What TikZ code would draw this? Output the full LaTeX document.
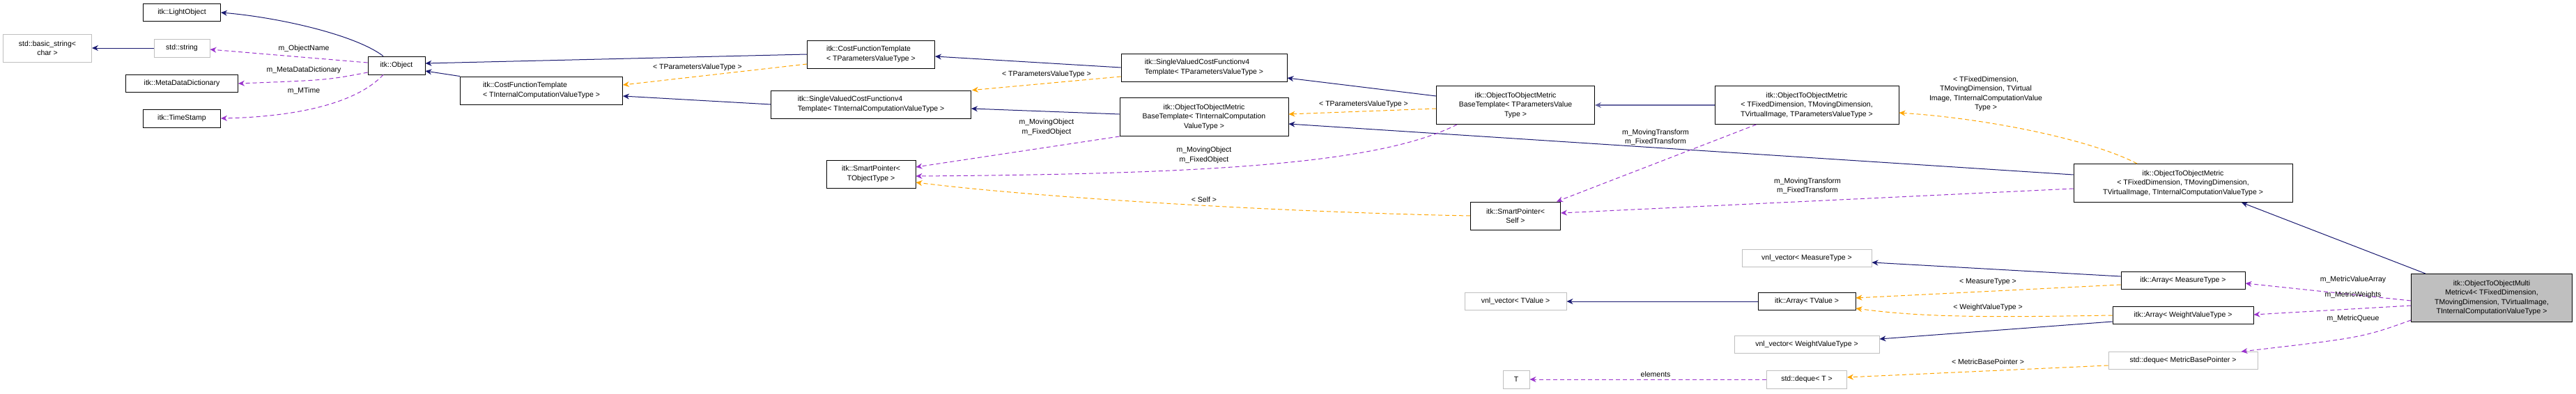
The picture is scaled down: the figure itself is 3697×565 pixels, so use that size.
\documentclass[tikz,border=0pt]{standalone}
\usepackage{fontspec}
\setmainfont{Liberation Sans}
\usepackage{tikz}
\usetikzlibrary{arrows.meta,positioning}
\definecolor{inhblue}{RGB}{25,25,112}
\definecolor{usepurple}{RGB}{153,50,204}
\definecolor{tplorange}{RGB}{255,165,0}
\definecolor{nodoc}{RGB}{191,191,191}
\definecolor{slate}{RGB}{100,100,160}

\begin{document}
\begin{tikzpicture}[
    x=1pt, y=-1pt,
    font=\fontsize{10.5}{13.5}\selectfont,
    cls/.style={rectangle, draw=black, line width=0.9pt, inner sep=2pt, align=left},
    ext/.style={cls, draw=nodoc},
    inh/.style={-{Stealth[length=9pt,width=8pt]}, draw=inhblue, line width=1pt},
    use/.style={-{Stealth[length=9pt,width=8pt]}, draw=usepurple, line width=1pt, dash pattern=on 6pt off 4pt},
    tpl/.style={-{Stealth[length=9pt,width=8pt]}, draw=tplorange, line width=1pt, dash pattern=on 6pt off 4pt},
    lbl/.style={align=center, inner sep=1pt}
]
    \useasboundingbox (0,0) rectangle (3697,565);
    % classes
    \node[cls, minimum width=111, minimum height=25] (light) at (261,18) {itk::LightObject};
    \node[ext, minimum width=127, minimum height=40, align=center] (bstr) at (68,69) {std::basic\_string<\\char >};
    \node[ext, minimum width=80, minimum height=26] (str) at (261,69) {std::string};
    \node[cls, minimum width=161, minimum height=25] (mdd) at (261,120) {itk::MetaDataDictionary};
    \node[cls, minimum width=111, minimum height=26] (ts) at (261,170) {itk::TimeStamp};
    \node[cls, minimum width=82, minimum height=26] (obj) at (569,94) {itk::Object};
    \node[cls, minimum width=233, minimum height=40] (cfti) at (777,130) {itk::CostFunctionTemplate\\< TInternalComputationValueType >};
    \node[cls, minimum width=183, minimum height=40] (cftp) at (1250,78) {itk::CostFunctionTemplate\\< TParametersValueType >};
    \node[cls, minimum width=287, minimum height=40] (svi) at (1250,150) {itk::SingleValuedCostFunctionv4\\Template< TInternalComputationValueType >};
    \node[cls, minimum width=128, minimum height=40, align=center] (spo) at (1250,250) {itk::SmartPointer<\\TObjectType >};
    \node[cls, minimum width=238, minimum height=40] (svp) at (1728,97) {itk::SingleValuedCostFunctionv4\\Template< TParametersValueType >};
    \node[cls, minimum width=242, minimum height=55, align=center] (obi) at (1728,168) {itk::ObjectToObjectMetric\\BaseTemplate< TInternalComputation\\ValueType >};
    \node[cls, minimum width=227, minimum height=55, align=center] (obp) at (2175,151) {itk::ObjectToObjectMetric\\BaseTemplate< TParametersValue\\Type >};
    \node[cls, minimum width=264, minimum height=55, align=center] (otp) at (2593,151) {itk::ObjectToObjectMetric\\< TFixedDimension, TMovingDimension,\\TVirtualImage, TParametersValueType >};
    \node[cls, minimum width=314, minimum height=55, align=center] (otm) at (3133,263) {itk::ObjectToObjectMetric\\< TFixedDimension, TMovingDimension,\\TVirtualImage, TInternalComputationValueType >};
    \node[cls, minimum width=129, minimum height=40, align=center] (spself) at (2175,310) {itk::SmartPointer<\\Self >};
    \node[ext, minimum width=186, minimum height=25] (vm) at (2593,371) {vnl\_vector< MeasureType >};
    \node[ext, minimum width=146, minimum height=25] (vt) at (2175,433) {vnl\_vector< TValue >};
    \node[cls, minimum width=140, minimum height=25] (at) at (2593,433) {itk::Array< TValue >};
    \node[ext, minimum width=208, minimum height=25] (vw) at (2593,495) {vnl\_vector< WeightValueType >};
    \node[ext, minimum width=38, minimum height=26] (t) at (2176,545) {T};
    \node[ext, minimum width=115, minimum height=26] (dt) at (2593,545) {std::deque< T >};
    \node[cls, minimum width=178, minimum height=25] (am) at (3133,403) {itk::Array< MeasureType >};
    \node[cls, minimum width=202, minimum height=25] (aw) at (3133,453) {itk::Array< WeightValueType >};
    \node[ext, minimum width=214, minimum height=25] (dm) at (3133,518) {std::deque< MetricBasePointer >};
    \node[cls, fill=nodoc, minimum width=231, minimum height=69, align=center] (main) at (3576,428) {itk::ObjectToObjectMulti\\Metricv4< TFixedDimension,\\TMovingDimension, TVirtualImage,\\TInternalComputationValueType >};

    % inheritance
    \draw[inh] ([xshift=-19]obj.north) .. controls (510,50) and (400,25) .. (light.east);
    \draw[inh] (str.west) -- (bstr.east);
    \draw[inh] (cfti.north west) -- ([yshift=-8]obj.east);
    \draw[inh] (cftp.west) -- ([yshift=3]obj.east);
    \draw[inh] (svi.west) -- ([yshift=-8]cfti.east);
    \draw[inh] (svp.west) -- ([yshift=-3]cftp.east);
    \draw[inh] ([yshift=4]obi.west) -- ([yshift=-6]svi.east);
    \draw[inh] ([yshift=13]obp.west) -- ([yshift=-15]svp.east);
    \draw[inh, draw=slate, line width=1.6pt] (otp.west) -- (obp.east);
    \draw[inh] ([yshift=12]otm.west) -- ([yshift=-10]obi.east);
    \draw[inh] ([xshift=-95]main.north) -- ([xshift=84]otm.south);
    \draw[inh] ([yshift=6]am.west) -- ([yshift=-6]vm.east);
    \draw[inh] (at.west) -- (vt.east);
    \draw[inh] ([yshift=-9]aw.west) -- ([yshift=8]vw.east);

    % members
    \draw[use] ([yshift=4]obj.west) -- ([yshift=-2]str.east);
    \draw[use] ([yshift=-10]obj.west) .. controls (470,115) .. (mdd.east);
    \draw[use] ([xshift=-19]obj.south) .. controls (510,150) and (420,168) .. (ts.east);
    \draw[use] (obi.south west) -- ([yshift=10]spo.east);
    \draw[use] ([xshift=30]obp.south west) .. controls (1980,235) and (1740,250) .. ([yshift=-3]spo.east);
    \draw[use] ([xshift=60]otp.south west) -- ([xshift=-6]spself.north east);
    \draw[use] ([yshift=-8]otm.west) -- ([yshift=4]spself.east);
    \draw[use] (dt.west) -- (t.east);
    \draw[use] ([yshift=-4]main.west) -- ([yshift=-4]am.east);
    \draw[use] ([yshift=-11]main.west) -- ([yshift=1]aw.east);
    \draw[use] ([yshift=3]main.south west) .. controls (3390,485) .. ([xshift=-24]dm.north east);

    % templates
    \draw[tpl] ([yshift=-14]cftp.west) -- ([yshift=8]cfti.east);
    \draw[tpl] ([yshift=-13]svp.west) -- ([xshift=1]svi.north east);
    \draw[tpl] ([yshift=-5]obp.west) -- ([yshift=4]obi.east);
    \draw[tpl] ([xshift=-66]otm.north) .. controls (3000,200) and (2850,170) .. ([yshift=-11]otp.east);
    \draw[tpl] (spself.west) .. controls (1850,305) and (1500,285) .. ([yshift=-12]spo.east);
    \draw[tpl] ([yshift=-6]am.west) -- ([yshift=5]at.east);
    \draw[tpl] (aw.west) .. controls (2850,456) and (2760,456) .. ([yshift=-10]at.east);
    \draw[tpl] ([yshift=-7]dm.west) -- ([yshift=3]dt.east);

    % labels
    \node[lbl] (lname) at (436,70) {m\_ObjectName};
    \node[lbl] (ldict) at (436,101) {m\_MetaDataDictionary};
    \node[lbl] (ltime) at (436,131) {m\_MTime};
    \node[lbl] (lpcft) at (1001,97) {< TParametersValueType >};
    \node[lbl] (lpsv) at (1502,107) {< TParametersValueType >};
    \node[lbl] (lmoi) at (1502,183) {m\_MovingObject\\m\_FixedObject};
    \node[lbl] (lmop) at (1728,223) {m\_MovingObject\\m\_FixedObject};
    \node[lbl] (lself) at (1728,287) {< Self >};
    \node[lbl] (lpob) at (1957,150) {< TParametersValueType >};
    \node[lbl] (lmtp) at (2376,197) {m\_MovingTransform\\m\_FixedTransform};
    \node[lbl] (lmtm) at (2594,267) {m\_MovingTransform\\m\_FixedTransform};
    \node[lbl] (lelem) at (2376,538) {elements};
    \node[lbl] (lotm) at (2850,135) {< TFixedDimension,\\TMovingDimension, TVirtual\\Image, TInternalComputationValue\\Type >};
    \node[lbl] (lmeas) at (2853,405) {< MeasureType >};
    \node[lbl] (lweight) at (2853,442) {< WeightValueType >};
    \node[lbl] (lmbp) at (2853,520) {< MetricBasePointer >};
    \node[lbl] (lmva) at (3377,402) {m\_MetricValueArray};
    \node[lbl] (lmw) at (3377,424) {m\_MetricWeights};
    \node[lbl] (lmq) at (3377,458) {m\_MetricQueue};
\end{tikzpicture}
\end{document}
